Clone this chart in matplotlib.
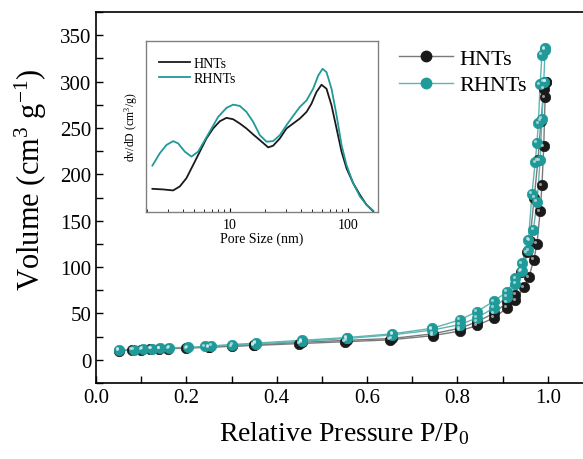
import matplotlib
matplotlib.use("Agg")
import matplotlib.pyplot as plt
from matplotlib.ticker import MultipleLocator, NullFormatter
from matplotlib.lines import Line2D
import matplotlib.transforms as mtransforms

plt.rcParams['font.family'] = ['Liberation Serif', 'DejaVu Serif']
plt.rcParams['mathtext.fontset'] = 'custom'
plt.rcParams['mathtext.rm'] = 'Liberation Serif'
plt.rcParams['mathtext.it'] = 'Liberation Serif:italic'

### isotherm data
hnt_ads_p = [0.05, 0.08, 0.10, 0.12, 0.14, 0.16, 0.20, 0.25, 0.30, 0.35, 0.45, 0.55, 0.65,
             0.745, 0.805, 0.843, 0.88, 0.91, 0.928, 0.947, 0.958, 0.969, 0.976, 0.983, 0.987,
             0.991, 0.994, 0.995]
hnt_ads_v = [9.5, 10.5, 11, 11.5, 11.5, 12, 12.5, 13.5, 14.5, 15.5, 17.5, 19.5, 21.5,
             26, 31, 37, 45, 56, 64, 78, 89, 108, 125, 160, 188,
             230, 283, 300]
hnt_des_p = [0.995, 0.991, 0.985, 0.978, 0.97, 0.96, 0.954, 0.94, 0.928, 0.91, 0.88, 0.843,
             0.805, 0.745, 0.655, 0.555, 0.455, 0.35, 0.25]
hnt_des_v = [300, 292, 258, 215, 175, 128, 116, 95, 70, 62, 50, 41,
             34, 28, 23, 21, 19, 16, 14]

rhnt_ads_p = [0.05, 0.083, 0.103, 0.123, 0.142, 0.162, 0.203, 0.241, 0.302, 0.354, 0.455, 0.555,
              0.656, 0.744, 0.805, 0.843, 0.88, 0.91, 0.928, 0.943, 0.957, 0.968, 0.976, 0.983,
              0.987, 0.991, 0.994]
rhnt_ads_v = [10.5, 11, 11.5, 12, 12.5, 13, 13.5, 14.5, 16, 17, 20, 23,
              27, 32, 38, 45, 56, 68, 82, 96, 118, 140, 170, 215,
              260, 300, 334]
rhnt_des_p = [0.993, 0.987, 0.983, 0.979, 0.976, 0.972, 0.965, 0.957, 0.943, 0.928, 0.91, 0.88,
              0.843, 0.805, 0.744, 0.656, 0.555, 0.455, 0.354, 0.255]
rhnt_des_v = [336, 329, 297, 255, 234, 213, 179, 129, 104, 88, 73.5, 63,
              52, 43, 34, 28, 24, 21, 18, 15]

### pore size distribution (inset)
hnt_d = [2.21, 2.72, 3.31, 3.77, 4.29, 4.89, 5.57, 6.34, 7.22, 8.23, 9.37, 10.67, 12.15, 13.84,
         15.77, 17.96, 21.15, 23.28, 26.53, 30.2, 34.4, 39.2, 44.7, 49.2, 54.2, 59.8, 65.9,
         72.7, 80.2, 88.4, 97.4, 110.9, 126.4, 143.9, 164]
hnt_dv = [23.3, 22.7, 21.7, 25.7, 34, 47.3, 60.7, 74, 84, 91.3, 94.7, 93.3, 89, 84,
          78, 72.3, 65, 66.7, 74, 84, 89, 94, 100.7, 109, 120.7, 128, 124,
          107.3, 84, 60.7, 44, 29, 17.3, 7.3, 0.7]
rhnt_d = [2.21, 2.55, 2.90, 3.31, 3.65, 4.16, 4.73, 5.39, 6.14, 7.00, 7.97, 9.37, 10.67, 12.15,
          13.84, 15.77, 17.96, 20.47, 23.28, 26.53, 30.2, 34.4, 39.2, 44.7, 50.8, 56.1, 61.0,
          65.9, 72.7, 80.2, 88.4, 97.4, 110.9, 126.4, 143.9, 164]
rhnt_dv = [46.7, 59, 67.3, 71.3, 69, 60.7, 55.7, 60.7, 72.3, 84, 95.7, 104.7, 108, 106.7,
           100.7, 90.7, 77.3, 70.7, 71.3, 77.3, 87.3, 96.7, 105.7, 112.3, 124, 137.3, 144,
           140.7, 124, 97.3, 67.3, 47.3, 29, 15.7, 7.3, 1.3]

black = '#1a1a1a'
teal = '#1f9a98'

fig = plt.figure(figsize=(5.83, 4.6), dpi=100)
ax = fig.add_axes([96/583, 76/460, 497/583, 371/460])

def draw(p, v, face, line):
    ax.plot(p, v, color=line, linewidth=1.0, zorder=2)
    ax.plot(p, v, linestyle='none', marker='o', ms=7.5, mfc=face, mec=face, mew=0.5, zorder=3)
    # little shine to get the ball look
    tr = mtransforms.offset_copy(ax.transData, fig=fig, x=-1.2, y=1.2, units='points')
    ax.plot(p, v, linestyle='none', marker='o', ms=2.2, mfc='white', mec='none',
            alpha=0.55, transform=tr, zorder=4)

draw(hnt_ads_p, hnt_ads_v, black, '#7a7a7a')
draw(hnt_des_p, hnt_des_v, black, '#7a7a7a')
draw(rhnt_ads_p, rhnt_ads_v, teal, '#5fb5b3')
draw(rhnt_des_p, rhnt_des_v, teal, '#5fb5b3')

ax.set_xlim(0, 1.1)
ax.set_ylim(-25, 375)
ax.xaxis.set_major_locator(MultipleLocator(0.2))
ax.xaxis.set_minor_locator(MultipleLocator(0.1))
ax.yaxis.set_major_locator(MultipleLocator(50))
ax.yaxis.set_minor_locator(MultipleLocator(25))
ax.tick_params(which='both', direction='in', labelsize=15, width=1)
ax.tick_params(which='major', length=5)
ax.tick_params(which='minor', length=5)
ax.set_xticks([0.0, 0.2, 0.4, 0.6, 0.8, 1.0])
ax.set_xticklabels(['0.0', '0.2', '0.4', '0.6', '0.8', '1.0'])
for s in ax.spines.values():
    s.set_linewidth(1.2)
ax.spines['right'].set_visible(False)
ax.set_xlabel('Relative Pressure P/P$_0$', fontsize=20, labelpad=9)
ax.set_ylabel('Volume (cm$^3$ g$^{-1}$)', fontsize=22)
ax.yaxis.set_label_coords(-0.095, 0.55)

h1 = Line2D([], [], color='#7a7a7a', lw=1, marker='o', ms=7.5, mfc=black, mec=black)
h2 = Line2D([], [], color='#5fb5b3', lw=1, marker='o', ms=7.5, mfc=teal, mec=teal)
ax.legend([h1, h2], ['HNTs', 'RHNTs'], loc='upper left', bbox_to_anchor=(0.57, 0.955),
          frameon=False, fontsize=16, handlelength=2.4, handletextpad=0.3, labelspacing=0.25)

### inset
ins = fig.add_axes([146/583, (460-213)/460, 232/583, 171/460])
ins.plot(hnt_d, hnt_dv, color=black, lw=1.3, label='HNTs')
ins.plot(rhnt_d, rhnt_dv, color=teal, lw=1.3, label='RHNTs')
ins.set_xscale('log')
ins.set_xlim(1.95, 180)
ins.set_ylim(0, 172)
ins.set_yticks([])
ins.tick_params(axis='x', which='both', direction='in', labelsize=10, pad=4)
ins.tick_params(axis='x', which='major', length=3)
ins.tick_params(axis='x', which='minor', length=2)
ins.xaxis.set_minor_formatter(NullFormatter())
ins.set_xticks([10, 100])
ins.set_xticklabels(['10', '100'])
for s in ins.spines.values():
    s.set_color('#808080')
    s.set_linewidth(1)
ins.set_xlabel('Pore Size (nm)', fontsize=10, labelpad=1)
ins.set_ylabel('dv/dD (cm$^3$/g)', fontsize=8.5, labelpad=4)
ins.legend(loc='upper left', bbox_to_anchor=(0.0, 0.98), frameon=False, fontsize=10,
           handlelength=2.3, handletextpad=0.2, labelspacing=0.15)

fig.savefig('out.png', dpi=100)
